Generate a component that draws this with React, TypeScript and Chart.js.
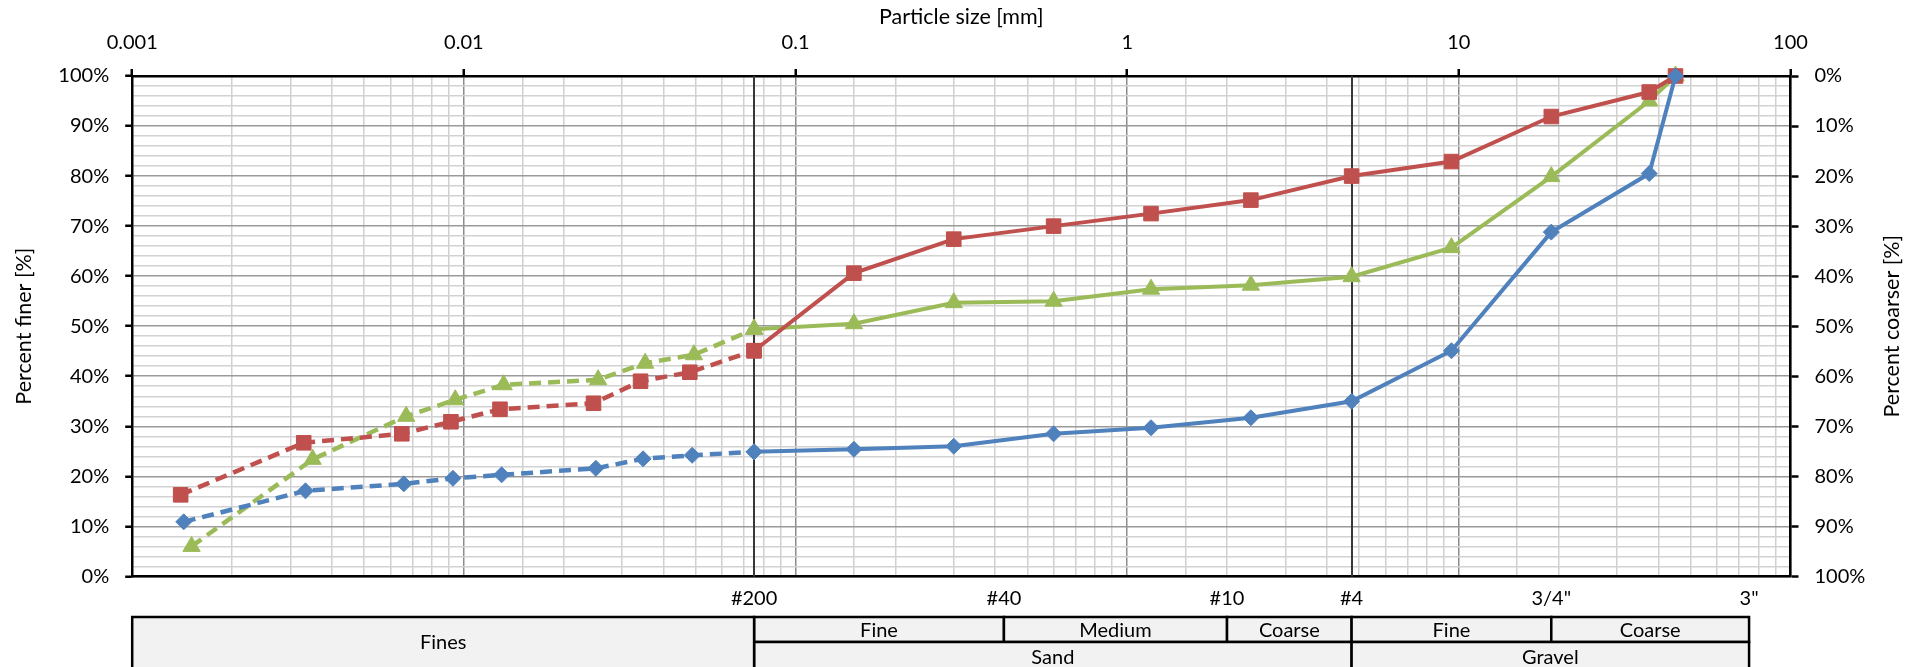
import React, { useEffect, useRef } from 'react';
import { Chart, registerables } from 'chart.js';

Chart.register(...registerables);

// ---------- DATA ----------
// Hydrometer (dashed) portion, particle size in mm and percent finer
const hydroSizesBlue = [0.00143, 0.00333, 0.00659, 0.00927, 0.013, 0.025, 0.0347, 0.0488, 0.075];
const hydroFinerBlue = [10.9, 17.1, 18.5, 19.6, 20.3, 21.6, 23.5, 24.2, 24.9];
const hydroSizesRed = [0.0014, 0.00329, 0.0065, 0.00914, 0.01285, 0.0246, 0.0341, 0.048, 0.075];
const hydroFinerRed = [16.3, 26.7, 28.5, 30.9, 33.4, 34.6, 39.0, 40.8, 45.1];
const hydroSizesGreen = [0.00151, 0.0035, 0.0067, 0.00942, 0.01318, 0.0254, 0.0352, 0.0494, 0.075];
const hydroFinerGreen = [6.0, 23.4, 32.0, 35.3, 38.3, 39.3, 42.6, 44.3, 49.4];

// Sieve (solid) portion
const sieveSizes = [0.075, 0.15, 0.3, 0.6, 1.18, 2.36, 4.75, 9.5, 19, 37.5, 45];
const sieveFinerBlue = [24.9, 25.4, 26.0, 28.5, 29.7, 31.7, 35.0, 45.1, 68.8, 80.5, 100];
const sieveFinerRed = [45.1, 60.6, 67.4, 70.0, 72.5, 75.2, 80.0, 82.9, 91.9, 96.8, 100];
const sieveFinerGreen = [49.4, 50.5, 54.7, 55.0, 57.4, 58.2, 59.9, 65.7, 79.9, 95.0, 100];

// Sieve designation ticks on the bottom axis
const sieveTickValues = [0.075, 0.425, 2, 4.75, 19, 75];
const sieveTickLabels = ['#200', '#40', '#10', '#4', '3/4"', '3"'];

// Soil classification boundaries (vertical lines)
const boundarySizes = [0.075, 4.75];

// Classification table
const tableRow1From = [0.001, 0.075, 0.425, 2, 4.75, 19];
const tableRow1To = [0.075, 0.425, 2, 4.75, 19, 75];
const tableRow1Labels = ['Fines', 'Fine', 'Medium', 'Coarse', 'Fine', 'Coarse'];
const tableRow2From = [0.075, 4.75];
const tableRow2To = [4.75, 75];
const tableRow2Labels = ['Sand', 'Gravel'];

const xMin = 0.001;
const xMax = 100;

// ---------- HELPERS ----------
const FONT = 'Lato, "Open Sans", sans-serif';
const TITLE_SIZE = 21.5;
const isDecade = (v: number) => {
  const l = Math.log10(v);
  return Math.abs(l - Math.round(l)) < 1e-6;
};
const fmtDecade = (v: number) => {
  const l = Math.round(Math.log10(v));
  return l < 0 ? v.toFixed(-l) : String(Math.round(v));
};
const pts = (xs: number[], ys: number[]) => xs.map((x, i) => ({ x, y: ys[i] }));

function makeDs(xs: number[], ys: number[], color: string, style: string, radius: number, dashed: boolean) {
  return {
    data: pts(xs, ys),
    borderColor: color,
    backgroundColor: color,
    pointBackgroundColor: color,
    pointBorderColor: color,
    pointStyle: style,
    pointRadius: radius,
    pointHoverRadius: radius,
    pointBorderWidth: 1,
    borderWidth: dashed ? 4.5 : 4,
    borderDash: dashed ? [12, 7] : [],
    showLine: true,
    tension: 0,
    clip: false as any,
    xAxisID: 'x',
    yAxisID: 'y',
  };
}

const BLUE = '#4f81bd';
const RED = '#c0504d';
const GREEN = '#9bbb59';

export default function App() {
  const ref = useRef<HTMLCanvasElement>(null);

  useEffect(() => {
    const canvas = ref.current;
    if (!canvas) return;

    const boundaryPlugin = {
      id: 'boundaries',
      beforeDatasetsDraw(chart: any) {
        const { ctx, chartArea } = chart;
        const xs = chart.scales.x;
        ctx.save();
        ctx.strokeStyle = '#383838';
        ctx.lineWidth = 2;
        boundarySizes.forEach((v) => {
          const px = Math.round(xs.getPixelForValue(v));
          ctx.beginPath();
          ctx.moveTo(px, chartArea.top);
          ctx.lineTo(px, chartArea.bottom);
          ctx.stroke();
        });
        ctx.restore();
      },
    };

    const tablePlugin = {
      id: 'classTable',
      afterDraw(chart: any) {
        const { ctx, chartArea } = chart;
        const xs = chart.scales.x;
        const top = 617;
        const rh = 25;
        ctx.save();
        ctx.font = `20px ${FONT}`;
        ctx.textAlign = 'center';
        ctx.textBaseline = 'middle';
        const drawCell = (from: number, to: number, y: number, h: number, label: string) => {
          const x1 = xs.getPixelForValue(from);
          const x2 = xs.getPixelForValue(to);
          ctx.fillStyle = '#f2f2f2';
          ctx.fillRect(x1, y, x2 - x1, h);
          ctx.strokeStyle = '#000';
          ctx.lineWidth = 2.5;
          ctx.strokeRect(x1, y, x2 - x1, h);
          ctx.fillStyle = '#000';
          ctx.fillText(label, (x1 + x2) / 2, y + h / 2 + 1);
        };
        tableRow1Labels.forEach((lab, i) => {
          if (i > 0) drawCell(tableRow1From[i], tableRow1To[i], top, rh, lab);
        });
        tableRow2Labels.forEach((lab, i) => {
          drawCell(tableRow2From[i], tableRow2To[i], top + rh, rh + 4, lab);
        });
        // Fines cell spans both rows
        {
          const x1 = xs.getPixelForValue(tableRow1From[0]);
          const x2 = xs.getPixelForValue(tableRow1To[0]);
          ctx.fillStyle = '#f2f2f2';
          ctx.fillRect(x1, top, x2 - x1, rh * 2 + 4);
          ctx.strokeStyle = '#000';
          ctx.lineWidth = 2.5;
          ctx.strokeRect(x1, top, x2 - x1, rh * 2 + 4);
          ctx.fillStyle = '#000';
          ctx.fillText(tableRow1Labels[0], (x1 + x2) / 2, top + rh + 1);
        }
        // right axis title, rotated like the left one
        ctx.save();
        ctx.font = `${TITLE_SIZE}px ${FONT}`;
        ctx.translate(1892, (chartArea.top + chartArea.bottom) / 2);
        ctx.rotate(-Math.PI / 2);
        ctx.fillStyle = '#000';
        ctx.fillText('Percent coarser [%]', 0, 0);
        ctx.restore();
        ctx.restore();
      },
    };

    const chart = new Chart(canvas, {
      type: 'scatter',
      data: {
        datasets: [
          makeDs(hydroSizesBlue, hydroFinerBlue, BLUE, 'rectRot', 8, true),
          makeDs(sieveSizes, sieveFinerBlue, BLUE, 'rectRot', 8, false),
          makeDs(hydroSizesRed, hydroFinerRed, RED, 'rect', 10.3, true),
          makeDs(sieveSizes, sieveFinerRed, RED, 'rect', 10.3, false),
          makeDs(hydroSizesGreen, hydroFinerGreen, GREEN, 'triangle', 10, true),
          makeDs(sieveSizes, sieveFinerGreen, GREEN, 'triangle', 10, false),
        ] as any,
      },
      options: {
        animation: false,
        responsive: false,
        maintainAspectRatio: false,
        layout: { padding: 0 },
        font: { family: FONT } as any,
        plugins: {
          legend: { display: false },
          tooltip: { enabled: false },
        },
        events: [],
        scales: {
          x: {
            type: 'logarithmic',
            position: 'top',
            min: xMin,
            max: xMax,
            afterFit: (s: any) => {
              s.height = 76;
            },
            title: {
              display: true,
              text: 'Particle size [mm]',
              color: '#000',
              font: { size: TITLE_SIZE, family: FONT },
              padding: { top: 4.5, bottom: 0 },
            },
            ticks: {
              autoSkip: false,
              maxRotation: 0,
              minRotation: 0,
              color: '#000',
              font: { size: 20, family: FONT },
              padding: 14,
              callback: (v: any) => (isDecade(Number(v)) ? fmtDecade(Number(v)) : ''),
            },
            grid: {
              color: (c: any) => (c.tick && isDecade(c.tick.value) ? '#8c8c8c' : '#d0d0d0'),
              lineWidth: 1.5,
              drawTicks: true,
              tickLength: 7,
              tickWidth: 2.5,
              tickColor: (c: any) => (c.tick && isDecade(c.tick.value) ? '#000' : 'rgba(0,0,0,0)'),
            },
            border: { color: '#000', width: 2.5 },
          },
          x2: {
            type: 'logarithmic',
            position: 'bottom',
            min: xMin,
            max: xMax,
            afterBuildTicks: (s: any) => {
              s.ticks = sieveTickValues.map((v) => ({ value: v }));
            },
            afterFit: (s: any) => {
              s.height = 90.6;
            },
            ticks: {
              autoSkip: false,
              maxRotation: 0,
              minRotation: 0,
              color: '#000',
              font: { size: 20, family: FONT },
              padding: 10,
              callback: (_v: any, i: number) => sieveTickLabels[i],
            },
            grid: { display: false, drawTicks: false },
            border: { color: '#000', width: 2.5 },
          },
          y: {
            type: 'linear',
            position: 'left',
            min: 0,
            max: 100,
            afterFit: (s: any) => {
              s.width = 132.2;
            },
            title: {
              display: true,
              text: 'Percent finer [%]',
              color: '#000',
              font: { size: TITLE_SIZE, family: FONT },
              padding: { top: 11, bottom: 0 },
            },
            ticks: {
              stepSize: 2,
              autoSkip: false,
              color: '#000',
              font: { size: 20, family: FONT },
              padding: 16,
              callback: (v: any) => (Number(v) % 10 === 0 ? `${v}%` : ''),
            },
            grid: {
              color: (c: any) => (c.tick && c.tick.value % 10 === 0 ? '#9a9a9a' : '#d2d2d2'),
              lineWidth: 1.5,
              drawTicks: true,
              tickLength: 7,
              tickWidth: 2.5,
              tickColor: (c: any) => (c.tick && c.tick.value % 10 === 0 ? '#000' : 'rgba(0,0,0,0)'),
            },
            border: { color: '#000', width: 2.5 },
          },
          y2: {
            type: 'linear',
            position: 'right',
            min: 0,
            max: 100,
            reverse: true,
            afterFit: (s: any) => {
              s.width = 128.5;
            },
            ticks: {
              stepSize: 10,
              autoSkip: false,
              color: '#000',
              font: { size: 20, family: FONT },
              padding: 16,
              callback: (v: any) => `${v}%`,
            },
            grid: {
              drawOnChartArea: false,
              drawTicks: true,
              tickLength: 8,
              tickWidth: 2.5,
              tickColor: '#000',
            },
            border: { color: '#000', width: 2.5 },
          },
        } as any,
      },
      plugins: [boundaryPlugin, tablePlugin],
    });

    return () => chart.destroy();
  }, []);

  return (
    <div style={{ position: 'fixed', left: 0, top: 0, width: 1919, height: 667, background: '#fff' }}>
      <canvas ref={ref} width={1919} height={667} style={{ display: 'block', width: 1919, height: 667 }} />
    </div>
  );
}
